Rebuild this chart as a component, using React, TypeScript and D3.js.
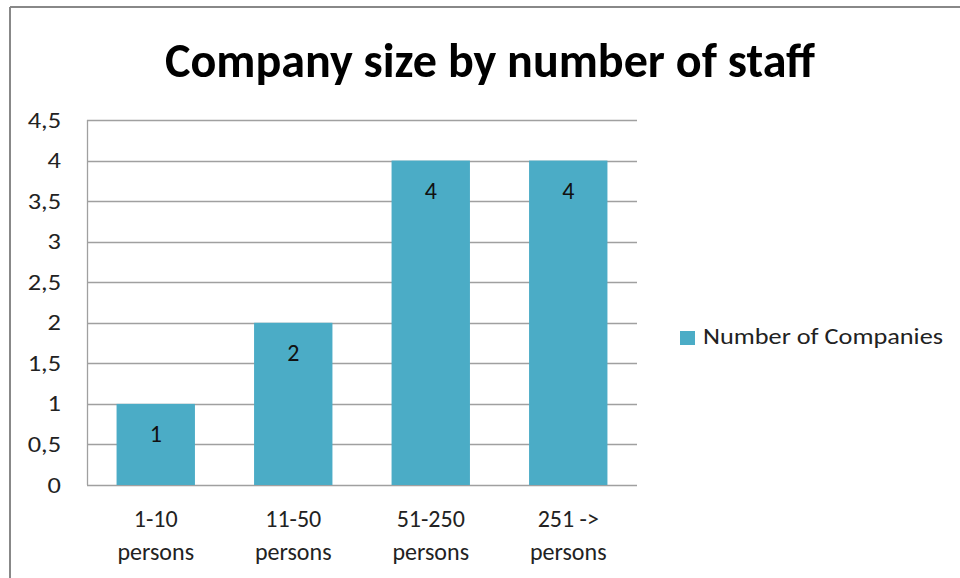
import React from "react";
import * as d3 from "d3";

const categoryLine1 = ["1-10", "11-50", "51-250", "251 ->"];
const categoryLine2 = ["persons", "persons", "persons", "persons"];
const values = [1, 2, 4, 4];
const yTicks = [0, 0.5, 1, 1.5, 2, 2.5, 3, 3.5, 4, 4.5];
const seriesName = "Number of Companies";
const title = "Company size by number of staff";

const W = 960;
const H = 578;
const plot = { left: 87, right: 637, top: 120, bottom: 485 };
const barColor = "#4BACC6";
const gridColor = "#A0A0A0";
const font = "Carlito, Calibri, Lato, 'Open Sans', sans-serif";

export default function App() {
  const x = d3
    .scaleBand<number>()
    .domain(d3.range(values.length))
    .range([plot.left, plot.right])
    .paddingInner(0.43)
    .paddingOuter(0.215);
  const y = d3.scaleLinear().domain([0, 4.5]).range([plot.bottom, plot.top]);
  const fmt = (v: number) => String(v).replace(".", ",");
  const band = (plot.right - plot.left) / values.length;

  return (
    <svg
      width={W}
      height={H}
      style={{ position: "absolute", left: 0, top: 0, background: "#fff" }}
    >
      <rect x={0} y={0} width={W} height={H} fill="#fff" />
      <line x1={10} y1={7} x2={W} y2={7} stroke="#888" strokeWidth={2} />
      <line x1={10} y1={7} x2={10} y2={H} stroke="#888" strokeWidth={2} />
      <text
        x={490}
        y={77}
        textAnchor="middle"
        fontFamily={font}
        fontWeight="bold"
        fontSize={48}
        textLength={650}
        lengthAdjust="spacingAndGlyphs"
        fill="#000"
      >
        {title}
      </text>
      {yTicks.map((t) => (
        <g key={t}>
          <line
            x1={plot.left}
            x2={plot.right}
            y1={Math.round(y(t)) + 0.5}
            y2={Math.round(y(t)) + 0.5}
            stroke={gridColor}
            strokeWidth={1.3}
          />
          <text
            transform={`translate(61,${y(t) + 7.5}) scale(1.2,1)`}
            textAnchor="end"
            fontFamily={font}
            fontSize={22}
            fill="#222"
          >
            {fmt(t)}
          </text>
        </g>
      ))}
      <line
        x1={plot.left + 0.5}
        x2={plot.left + 0.5}
        y1={plot.top}
        y2={plot.bottom}
        stroke={gridColor}
        strokeWidth={1.3}
      />
      {values.map((v, i) => (
        <g key={i}>
          <rect
            x={x(i)!}
            y={y(v)}
            width={x.bandwidth()}
            height={y(0) - y(v)}
            fill={barColor}
          />
          <text
            x={x(i)! + x.bandwidth() / 2}
            y={y(v) + 38}
            textAnchor="middle"
            fontFamily={font}
            fontSize={24}
            fill="#111"
          >
            {v}
          </text>
          <text
            x={plot.left + band * (i + 0.5)}
            y={527}
            textAnchor="middle"
            fontFamily={font}
            fontSize={24}
            fill="#222"
          >
            {categoryLine1[i]}
          </text>
          <text
            x={plot.left + band * (i + 0.5)}
            y={560}
            textAnchor="middle"
            fontFamily={font}
            fontSize={24}
            fill="#222"
          >
            {categoryLine2[i]}
          </text>
        </g>
      ))}
      <rect x={680} y={331} width={15} height={14} fill={barColor} />
      <text
        x={703}
        y={344}
        fontFamily={font}
        fontSize={23}
        textLength={240}
        lengthAdjust="spacingAndGlyphs"
        fill="#222"
      >
        {seriesName}
      </text>
    </svg>
  );
}
